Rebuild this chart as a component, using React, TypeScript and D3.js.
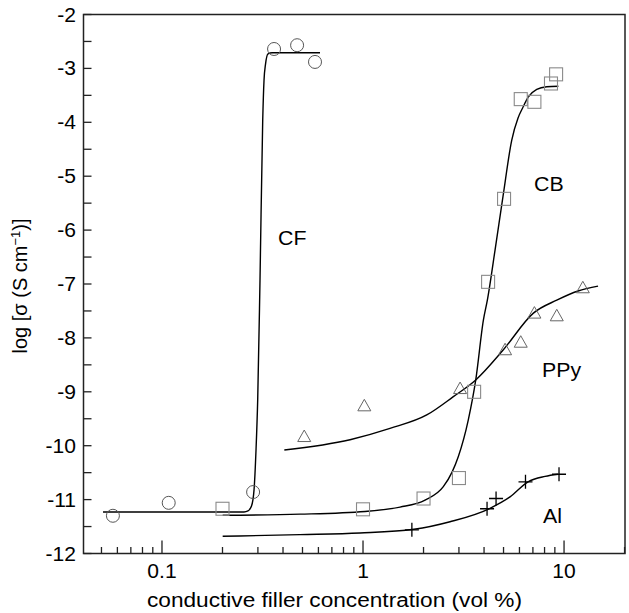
import React from "react";
import * as d3 from "d3";

// ---- data (x in vol %, y in log S/cm) ----
const cfPoints: [number, number][] = [
  [0.057, -11.3], [0.108, -11.06], [0.284, -10.86],
  [0.361, -2.64], [0.47, -2.57], [0.577, -2.88],
];
const cfFit: [number, number][] = [
  [0.0509, -11.23], [0.2559, -11.23], [0.2678, -11.21], [0.2788, -11.12],
  [0.287, -10.82], [0.2936, -10.08], [0.2993, -9.15], [0.3073, -6.93],
  [0.317, -3.96], [0.3218, -3.22], [0.3274, -2.92], [0.3369, -2.73],
  [0.3527, -2.71], [0.6109, -2.71],
];
const cbPoints: [number, number][] = [
  [0.2, -11.17], [1.0, -11.18], [2.0, -10.98], [3.0, -10.6], [3.57, -9.0],
  [4.19, -6.96], [5.03, -5.42], [6.09, -3.57], [7.12, -3.62], [8.61, -3.28], [9.13, -3.11],
];
const cbFit: [number, number][] = [
  [0.2004, -11.29], [0.486, -11.27], [1.023, -11.22], [1.528, -11.14],
  [2.035, -11.01], [2.509, -10.76], [2.773, -10.49], [2.98, -10.2],
  [3.34, -9.52], [3.637, -8.78], [3.97, -7.67], [4.154, -7.3],
  [4.537, -6.37], [4.972, -5.37], [5.494, -4.33], [5.904, -3.92],
  [6.23, -3.73], [6.645, -3.53], [7.314, -3.39], [8.2, -3.34], [9.37, -3.33],
];
const ppyPoints: [number, number][] = [
  [0.51, -9.83], [1.015, -9.26], [3.04, -8.94], [5.09, -8.22], [6.09, -8.08],
  [7.12, -7.54], [9.2, -7.59], [12.4, -7.07],
];
const ppyFit: [number, number][] = [
  [0.406, -10.08], [0.862, -9.89], [1.362, -9.68], [2.075, -9.43],
  [2.814, -9.09], [3.637, -8.78], [4.99, -8.22], [7.04, -7.54],
  [9.2, -7.3], [11.74, -7.13], [14.76, -7.04],
];
const alPoints: [number, number][] = [
  [1.75, -11.56], [4.14, -11.17], [4.59, -10.98], [6.43, -10.67], [9.44, -10.53],
];
const alFit: [number, number][] = [
  [0.2004, -11.68], [0.486, -11.65], [0.966, -11.62], [1.793, -11.55],
  [2.709, -11.41], [4.236, -11.17], [5.386, -10.95], [6.62, -10.67],
  [8.045, -10.57], [9.34, -10.53],
];
const xMajorTicks = [0.1, 1, 10];
const xTickLabels = ["0.1", "1", "10"];
const yMajorTicks = [-2, -3, -4, -5, -6, -7, -8, -9, -10, -11, -12];
const seriesLabels: { text: string; x: number; y: number }[] = [
  { text: "CF", x: 278, y: 245 },
  { text: "CB", x: 534, y: 191 },
  { text: "PPy", x: 542, y: 377 },
  { text: "Al", x: 543, y: 523 },
];

const W = 629, H = 613;
const L = 83.5, R = 625, T = 14.5, B = 553.5;
const FONT = "'Liberation Sans', Arial, Helvetica, sans-serif";
const SX = 1.08;

export default function App() {
  const x = d3.scaleLog().domain([0.0407, 20.1]).range([L, R]);
  const y = d3.scaleLinear().domain([-12, -2]).range([B, T]);
  const line = d3.line<[number, number]>()
    .x((d) => x(d[0]))
    .y((d) => y(d[1]))
    .curve(d3.curveMonotoneX);

  const minorX: number[] = [];
  for (const dec of [0.01, 0.1, 1, 10]) {
    for (let k = 2; k <= 9; k++) {
      const v = dec * k;
      if (v > 0.0407 && v < 20.1) minorX.push(v);
    }
  }
  const yTicksAll = d3.range(-12, -2 + 0.01, 0.5);

  return (
    <svg width={W} height={H} style={{ display: "block", position: "absolute", left: 0, top: 0 }}
      fontFamily={FONT}>
      <rect x={0} y={0} width={W} height={H} fill="#fff" />
      {/* fits */}
      {[cfFit, cbFit, ppyFit, alFit].map((s, i) => (
        <path key={i} d={line(s) || ""} fill="none" stroke="#000" strokeWidth={1.4} />
      ))}
      {/* markers */}
      {cfPoints.map((d, i) => (
        <circle key={"c" + i} cx={x(d[0])} cy={y(d[1])} r={6.5} fill="none" stroke="#555" strokeWidth={1} />
      ))}
      {cbPoints.map((d, i) => (
        <rect key={"s" + i} x={x(d[0]) - 6.5} y={y(d[1]) - 6.5} width={13} height={13}
          fill="none" stroke="#8a8a8a" strokeWidth={1.1} />
      ))}
      {ppyPoints.map((d, i) => {
        const cx = x(d[0]), cy = y(d[1]);
        return (
          <path key={"t" + i}
            d={`M${cx},${cy - 6.5}L${cx + 6.5},${cy + 5}L${cx - 6.5},${cy + 5}Z`}
            fill="none" stroke="#666" strokeWidth={1} />
        );
      })}
      {alPoints.map((d, i) => {
        const cx = x(d[0]), cy = y(d[1]);
        return (
          <path key={"p" + i}
            d={`M${cx - 7},${cy}H${cx + 7}M${cx},${cy - 7}V${cy + 7}`}
            fill="none" stroke="#000" strokeWidth={1.3} />
        );
      })}
      {/* axes box */}
      <rect x={L} y={T} width={R - L} height={B - T} fill="none" stroke="#222" strokeWidth={1.5} />
      {/* y ticks */}
      {yTicksAll.map((v, i) => (
        <line key={"yt" + i} x1={L} x2={L + 8} y1={y(v)} y2={y(v)} stroke="#222" strokeWidth={1.3} />
      ))}
      {yMajorTicks.map((v) => (
        <text key={"yl" + v} transform={`translate(76,${y(v)}) scale(${SX},1)`} dy="0.36em"
          textAnchor="end" fontSize={19.5}>{v}</text>
      ))}
      {/* x ticks */}
      {minorX.map((v, i) => (
        <line key={"xm" + i} x1={x(v)} x2={x(v)} y1={B} y2={B - 6.5} stroke="#222" strokeWidth={1.3} />
      ))}
      {xMajorTicks.map((v, i) => (
        <g key={"xM" + i}>
          <line x1={x(v)} x2={x(v)} y1={B} y2={B - 13} stroke="#222" strokeWidth={1.3} />
          <text transform={`translate(${x(v)},578) scale(${SX},1)`} textAnchor="middle" fontSize={19.5}>
            {xTickLabels[i]}
          </text>
        </g>
      ))}
      {/* series labels */}
      {seriesLabels.map((l) => (
        <text key={l.text} transform={`translate(${l.x},${l.y}) scale(1.04,1)`} fontSize={20.5}>{l.text}</text>
      ))}
      {/* axis titles */}
      <text x={147} y={606.5} fontSize={20} textLength={375} lengthAdjust="spacingAndGlyphs">
        conductive filler concentration (vol %)
      </text>
      <text transform={`translate(27,286) rotate(-90)`} textAnchor="middle" fontSize={20}>
        log [σ (S cm<tspan fontSize={13} dy={-7}>−1</tspan><tspan dy={7}>)]</tspan>
      </text>
    </svg>
  );
}
